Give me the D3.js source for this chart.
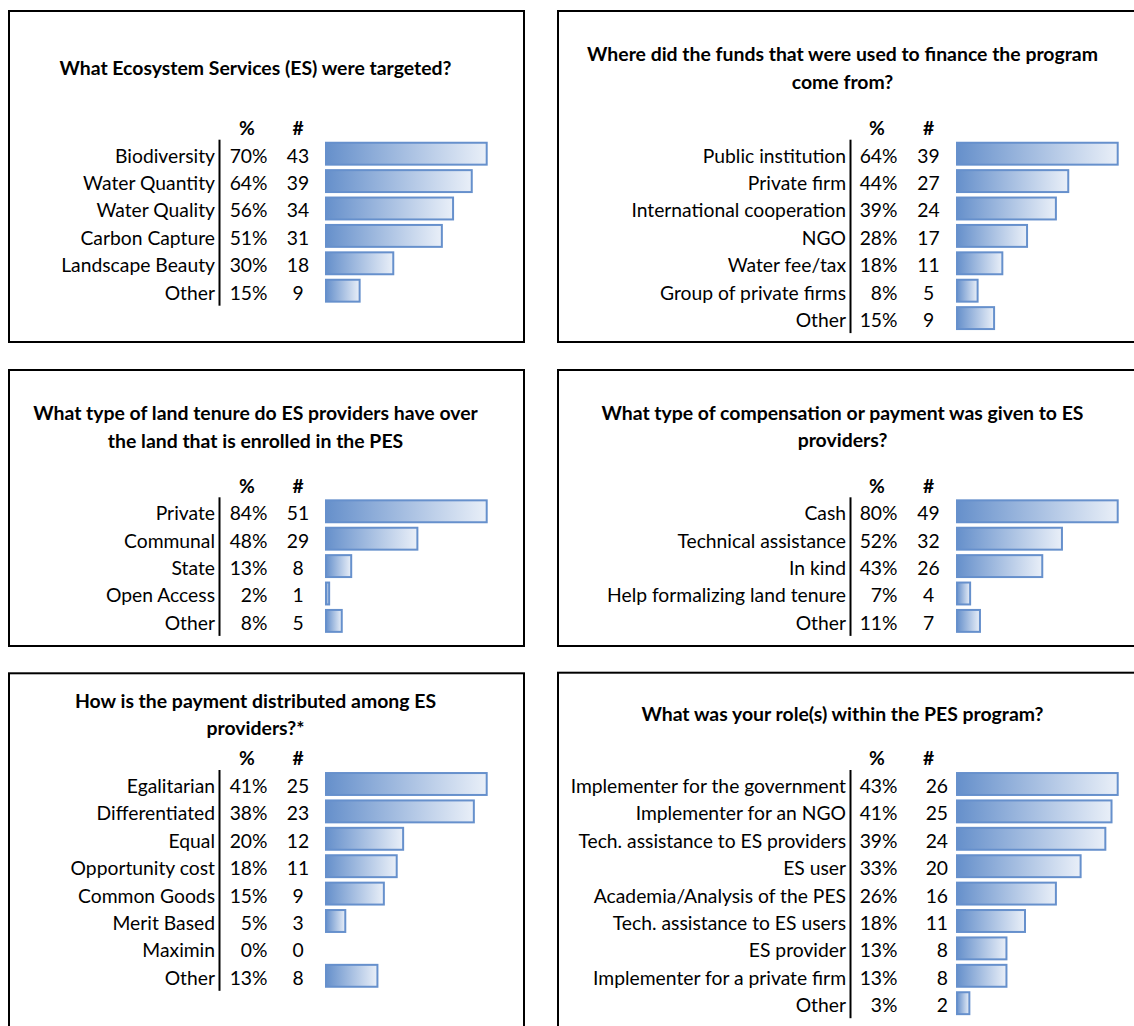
<!DOCTYPE html>
<html>
<head>
<meta charset="utf-8">
<script src="https://cdn.jsdelivr.net/npm/d3@7"></script>
<style>
  html, body { margin: 0; padding: 0; background: #fff; }
  svg { display: block; }
</style>
</head>
<body>
<script>
// ---------------- DATA ----------------
const esTitle = ["What Ecosystem Services (ES) were targeted?"];
const esCategories = ["Biodiversity", "Water Quantity", "Water Quality", "Carbon Capture", "Landscape Beauty", "Other"];
const esPct = [70, 64, 56, 51, 30, 15];
const esCounts = [43, 39, 34, 31, 18, 9];

const fundsTitle = ["Where did the funds that were used to finance the program", "come from?"];
const fundsCategories = ["Public institution", "Private firm", "International cooperation", "NGO", "Water fee/tax", "Group of private firms", "Other"];
const fundsPct = [64, 44, 39, 28, 18, 8, 15];
const fundsCounts = [39, 27, 24, 17, 11, 5, 9];

const tenureTitle = ["What type of land tenure do ES providers have over", "the land that is enrolled in the PES"];
const tenureCategories = ["Private", "Communal", "State", "Open Access", "Other"];
const tenurePct = [84, 48, 13, 2, 8];
const tenureCounts = [51, 29, 8, 1, 5];

const compTitle = ["What type of compensation or payment was given to ES", "providers?"];
const compCategories = ["Cash", "Technical assistance", "In kind", "Help formalizing land tenure", "Other"];
const compPct = [80, 52, 43, 7, 11];
const compCounts = [49, 32, 26, 4, 7];

const distTitle = ["How is the payment distributed among ES", "providers?*"];
const distCategories = ["Egalitarian", "Differentiated", "Equal", "Opportunity cost", "Common Goods", "Merit Based", "Maximin", "Other"];
const distPct = [41, 38, 20, 18, 15, 5, 0, 13];
const distCounts = [25, 23, 12, 11, 9, 3, 0, 8];

const roleTitle = ["What was your role(s) within the PES program?"];
const roleCategories = ["Implementer for the government", "Implementer for an NGO", "Tech. assistance to ES providers", "ES user", "Academia/Analysis of the PES", "Tech. assistance to ES users", "ES provider", "Implementer for a private firm", "Other"];
const rolePct = [43, 41, 39, 33, 26, 18, 13, 13, 3];
const roleCounts = [26, 25, 24, 20, 16, 11, 8, 8, 2];

const headerLabels = ["%", "#"];

// ---------------- LAYOUT ----------------
const W = 1134, H = 1026;
const FONT = "Lato, 'Open Sans', 'Liberation Sans', sans-serif";
const STEP = 27.4;

const panels = [
  { title: esTitle, cats: esCategories, pct: esPct, counts: esCounts, side: 0, boxY: 11, boxH: 331, titleY: [68.3], c0: 155.7 },
  { title: fundsTitle, cats: fundsCategories, pct: fundsPct, counts: fundsCounts, side: 1, boxY: 11, boxH: 331, titleY: [54.3, 81.7], c0: 155.7 },
  { title: tenureTitle, cats: tenureCategories, pct: tenurePct, counts: tenureCounts, side: 0, boxY: 370, boxH: 276, titleY: [413.3, 440.7], c0: 513.3 },
  { title: compTitle, cats: compCategories, pct: compPct, counts: compCounts, side: 1, boxY: 370, boxH: 276, titleY: [412.7, 440.2], c0: 513.3 },
  { title: distTitle, cats: distCategories, pct: distPct, counts: distCounts, side: 0, boxY: 673.3, boxH: 420, titleY: [700.7, 728.3], c0: 786 },
  { title: roleTitle, cats: roleCategories, pct: rolePct, counts: roleCounts, side: 1, boxY: 672.7, boxH: 420, titleY: [714.3], c0: 786, countAlign: "end" }
];

const sideGeom = [
  { boxX: 9, boxW: 515, titleX: 255.5, line: 219.5, labelEnd: 215, pctEnd: 267.5, pctHead: 247, cnt: 298, cntEnd: 317, barStart: 326, barEnd: 486.7 },
  { boxX: 558, boxW: 600, titleX: 842.5, line: 850.5, labelEnd: 846, pctEnd: 897.5, pctHead: 877, cnt: 928.5, cntEnd: 948, barStart: 957, barEnd: 1117.7 }
];

const svg = d3.select("body").append("svg")
  .attr("width", W).attr("height", H)
  .attr("viewBox", `0 0 ${W} ${H}`);

svg.append("rect").attr("width", W).attr("height", H).attr("fill", "#fff");

const defs = svg.append("defs");
const grad = defs.append("linearGradient").attr("id", "barGrad")
  .attr("x1", "0%").attr("x2", "100%").attr("y1", "0%").attr("y2", "0%");
grad.append("stop").attr("offset", "0%").attr("stop-color", "#6690cb");
grad.append("stop").attr("offset", "100%").attr("stop-color", "#e9eff8");

function fit(text, weight, target) {
  const t = svg.append("text").attr("font-family", FONT).attr("font-weight", weight)
    .attr("font-size", 100).text(text);
  const w = t.node().getComputedTextLength();
  t.remove();
  return 100 * target / w;
}
const labelSize = (fit("International cooperation", 400, 216) + fit("Landscape Beauty", 400, 153)) / 2;
const titleSize = fit("Where did the funds that were used to finance the program", 700, 511);

panels.forEach(p => {
  const g = sideGeom[p.side];
  const grp = svg.append("g");

  // frame
  grp.append("rect")
    .attr("x", g.boxX).attr("y", p.boxY)
    .attr("width", g.boxW).attr("height", p.boxH)
    .attr("fill", "none").attr("stroke", "#000").attr("stroke-width", 2);

  // title
  grp.selectAll("text.title").data(p.title).join("text")
    .attr("class", "title")
    .attr("x", g.titleX)
    .attr("y", (d, i) => p.titleY[i])
    .attr("dy", "0.36em")
    .attr("text-anchor", "middle")
    .attr("font-family", FONT).attr("font-weight", 700)
    .attr("font-size", titleSize)
    .attr("fill", "#000")
    .text(d => d);

  const n = p.cats.length;
  const rows = d3.scaleBand()
    .domain(p.cats)
    .range([p.c0 - 2 - STEP / 2, p.c0 - 2 - STEP / 2 + n * STEP])
    .paddingInner(0.2).paddingOuter(0.1);
  const x = d3.scaleLinear().domain([0, d3.max(p.counts)]).range([g.barStart, g.barEnd]);
  const cy = c => rows(c) + rows.bandwidth() / 2 + 2;

  const rowsData = p.cats.map((c, i) => ({ cat: c, pct: p.pct[i], count: p.counts[i] }));

  // headers
  const headY = p.c0 - 27.7;
  grp.append("text").attr("x", g.pctHead).attr("y", headY).attr("dy", "0.36em")
    .attr("text-anchor", "middle").attr("font-family", FONT).attr("font-weight", 700)
    .attr("font-size", labelSize).text(headerLabels[0]);
  grp.append("text").attr("x", g.cnt).attr("y", headY).attr("dy", "0.36em")
    .attr("text-anchor", "middle").attr("font-family", FONT).attr("font-weight", 700)
    .attr("font-size", labelSize).text(headerLabels[1]);

  // separator line
  grp.append("line")
    .attr("x1", g.line).attr("x2", g.line)
    .attr("y1", p.c0 - 16).attr("y2", p.c0 + (n - 1) * STEP + 13)
    .attr("stroke", "#000").attr("stroke-width", 2);

  // category labels
  grp.selectAll("text.cat").data(rowsData).join("text")
    .attr("class", "cat")
    .attr("x", g.labelEnd).attr("y", d => cy(d.cat)).attr("dy", "0.36em")
    .attr("text-anchor", "end")
    .attr("font-family", FONT).attr("font-size", labelSize).attr("fill", "#000")
    .text(d => d.cat);

  // percentages
  grp.selectAll("text.pct").data(rowsData).join("text")
    .attr("class", "pct")
    .attr("x", g.pctEnd).attr("y", d => cy(d.cat)).attr("dy", "0.36em")
    .attr("text-anchor", "end")
    .attr("font-family", FONT).attr("font-size", labelSize).attr("fill", "#000")
    .text(d => d.pct + "%");

  // counts
  const endAlign = p.countAlign === "end";
  grp.selectAll("text.cnt").data(rowsData).join("text")
    .attr("class", "cnt")
    .attr("x", endAlign ? g.cntEnd : g.cnt).attr("y", d => cy(d.cat)).attr("dy", "0.36em")
    .attr("text-anchor", endAlign ? "end" : "middle")
    .attr("font-family", FONT).attr("font-size", labelSize).attr("fill", "#000")
    .text(d => d.count);

  // bars
  grp.selectAll("rect.bar").data(rowsData.filter(d => d.count > 0)).join("rect")
    .attr("class", "bar")
    .attr("x", x(0))
    .attr("y", d => rows(d.cat))
    .attr("width", d => x(d.count) - x(0))
    .attr("height", rows.bandwidth())
    .attr("fill", "url(#barGrad)")
    .attr("stroke", "#6690cc")
    .attr("stroke-width", 2);
});
</script>
</body>
</html>
